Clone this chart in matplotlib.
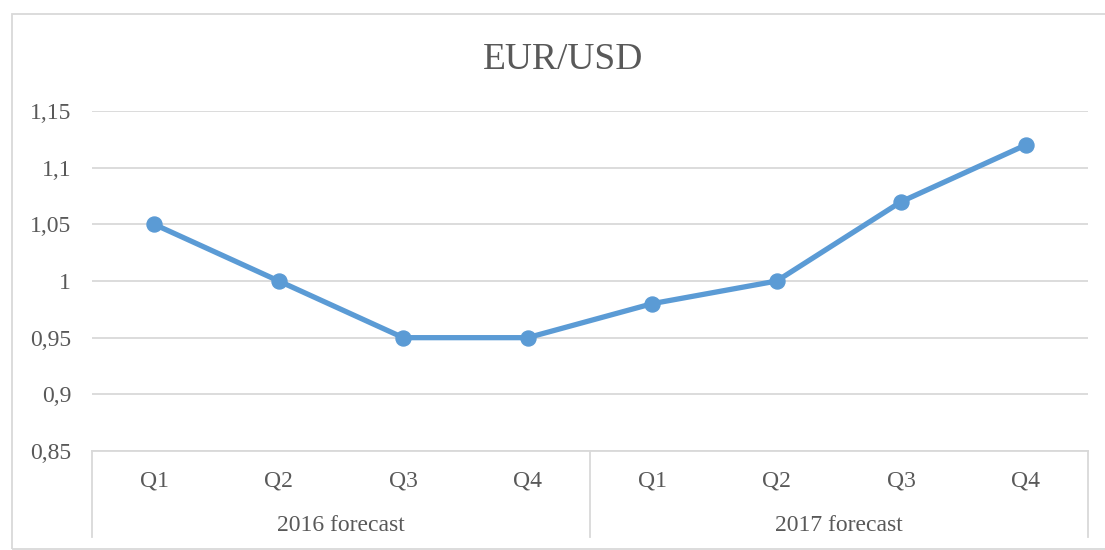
import matplotlib
matplotlib.use("Agg")
import matplotlib.pyplot as plt
from matplotlib.patches import Rectangle
from matplotlib.lines import Line2D
from matplotlib.ticker import FuncFormatter

quarters = ["Q1", "Q2", "Q3", "Q4", "Q1", "Q2", "Q3", "Q4"]
groups = ["2016 forecast", "2017 forecast"]
group_sizes = [4, 4]
values = [1.05, 1.00, 0.95, 0.95, 0.98, 1.00, 1.07, 1.12]
yticks = [0.85, 0.90, 0.95, 1.00, 1.05, 1.10, 1.15]
title = "EUR/USD"

W, H = 1105, 550
TEXT = "#595959"
GRID = "#D9D9D9"
LINE = "#5B9BD5"
FONT = "Liberation Serif"
FS = 17

fig = plt.figure(figsize=(W / 100, H / 100), dpi=100)
fig.patch.set_facecolor("white")

left, right, top, bottom = 92, 1088, 111, 451
ax = fig.add_axes([left / W, 1 - bottom / H, (right - left) / W, (bottom - top) / H])

n = len(values)
x = list(range(n))
ax.plot(x, values, color=LINE, lw=3.8, marker="o", ms=10.8, solid_capstyle="round", zorder=3)

ax.set_xlim(-0.5, n - 0.5)
ax.set_ylim(yticks[0], yticks[-1])
ax.set_yticks(yticks)
ax.yaxis.set_major_formatter(FuncFormatter(lambda v, p: (f"{v:.2f}".rstrip("0").rstrip(".")).replace(".", ",")))
ax.tick_params(axis="y", length=0, pad=15, labelsize=FS, labelcolor=TEXT)
for lab in ax.get_yticklabels():
    lab.set_fontfamily(FONT)
ax.set_xticks([])
ax.grid(axis="y", color=GRID, lw=1.3)
ax.set_axisbelow(True)
for s in ["top", "right", "left"]:
    ax.spines[s].set_visible(False)
ax.spines["bottom"].set_color(GRID)
ax.spines["bottom"].set_linewidth(1.3)

xt = ax.get_xaxis_transform()
def ay(py):
    return (bottom - py) / (bottom - top)

# Category labels
for i, q in enumerate(quarters):
    ax.text(i, ay(487), q, transform=xt, ha="center", va="baseline",
            fontsize=FS, color=TEXT, family=FONT)

# Group labels and separators
start = 0
bounds = [-0.5]
for g, sz in zip(groups, group_sizes):
    center = start + (sz - 1) / 2
    ax.text(center, ay(531), g, transform=xt, ha="center", va="baseline",
            fontsize=FS, color=TEXT, family=FONT)
    start += sz
    bounds.append(start - 0.5)
for b in bounds:
    ax.add_line(Line2D([b, b], [0, ay(537)], transform=xt, color=GRID, lw=1.3, clip_on=False))

# Title
fig.text(563.5 / W, 1 - 69 / H, title, ha="center", va="baseline", fontsize=27, color=TEXT, family=FONT)

# Outer chart border
fig.patches.append(Rectangle((11.5 / W, 1 - 548.5 / H), (1110 - 11.5) / W, (548.5 - 14) / H,
                             transform=fig.transFigure, fill=False, edgecolor=GRID, lw=1.3))

fig.savefig("out.png", dpi=100)
